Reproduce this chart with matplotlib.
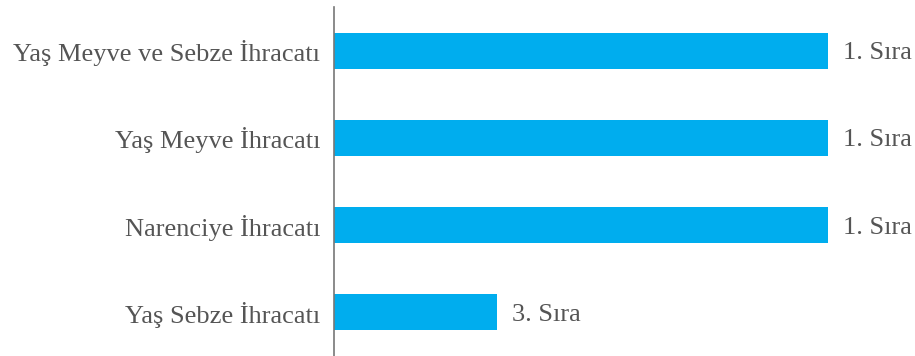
import matplotlib
matplotlib.use('Agg')
import matplotlib.pyplot as plt

kategoriler = ['Yaş Meyve ve Sebze İhracatı', 'Yaş Meyve İhracatı',
               'Narenciye İhracatı', 'Yaş Sebze İhracatı']
degerler = [1.0, 1.0, 1.0, 0.33]
etiketler = ['1. Sıra', '1. Sıra', '1. Sıra', '3. Sıra']

plt.rcParams['font.family'] = ['Liberation Serif', 'DejaVu Serif']

fig = plt.figure(figsize=(9.15, 3.56), dpi=100)
ax = fig.add_axes([334 / 915, 0, (828 - 334) / 915, 349 / 356])

y = list(range(len(kategoriler)))
ax.barh(y, degerler, height=0.41, color='#00adee')
ax.set_ylim(3.5, -0.5)
ax.set_xlim(0, 1.0)

for yi, v, t in zip(y, degerler, etiketler):
    ax.text(v + 0.03, yi, t, va='center_baseline', ha='left', fontsize=19,
            color='#555555', clip_on=False)

ax.set_yticks(y)
ax.set_yticklabels(kategoriler, fontsize=19, color='#555555',
                   va='center_baseline')
ax.tick_params(axis='y', length=0, pad=10)
ax.set_xticks([])
for s in ['top', 'right', 'bottom']:
    ax.spines[s].set_visible(False)
ax.spines['left'].set_color('#777777')
ax.spines['left'].set_linewidth(1.2)

fig.savefig('out.png', dpi=100)
